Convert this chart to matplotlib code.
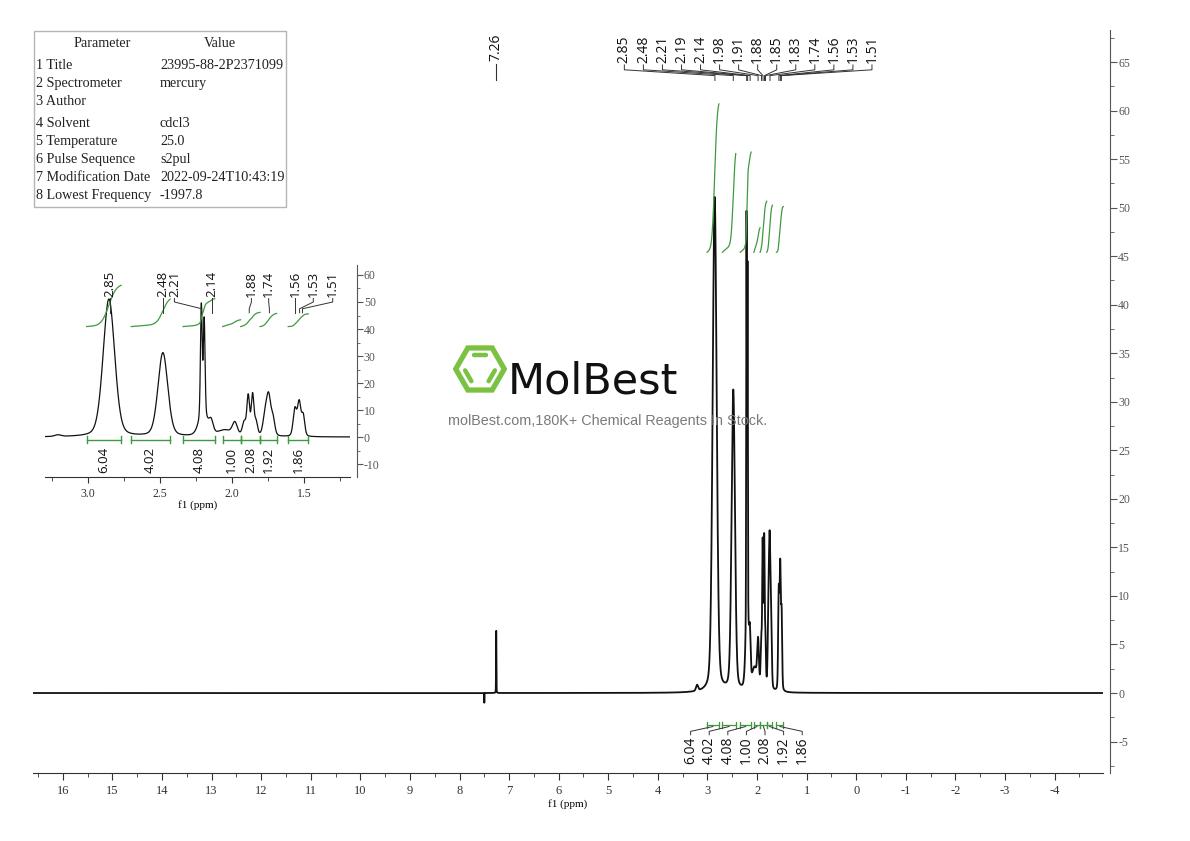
import numpy as np
import matplotlib
matplotlib.use('Agg')
import matplotlib.pyplot as plt
from matplotlib.patches import Rectangle, RegularPolygon
from matplotlib.ticker import MultipleLocator, FormatStrFormatter

plt.rcParams['font.family'] = ['Liberation Serif', 'DejaVu Serif']
plt.rcParams['axes.unicode_minus'] = False

# ---------------- data ----------------
peak_ppm = [7.26, 7.50, 3.21, 2.855, 2.48, 2.213, 2.193, 2.20, 2.145, 2.05, 1.98,
            1.915, 1.887, 1.857, 1.833, 1.77, 1.745, 1.715, 1.563, 1.533, 1.505]
peak_height = [6.4, -1.0, 0.6, 51, 31, 41, 35, 8, 4.5, 2.3, 4.5,
               5, 14.5, 15, 5, 7, 14, 6, 10, 12.5, 7.5]
peak_fwhm = [0.008, 0.004, 0.05, 0.095, 0.08, 0.014, 0.014, 0.07, 0.035, 0.12, 0.04,
             0.03, 0.022, 0.022, 0.025, 0.035, 0.035, 0.03, 0.028, 0.028, 0.025]
ppm_high, ppm_low = 16.65, -4.97

solvent_label = 7.26
main_labels = [2.85, 2.48, 2.21, 2.19, 2.14, 1.98, 1.91, 1.88, 1.85, 1.83, 1.74, 1.56, 1.53, 1.51]
inset_labels = [2.85, 2.48, 2.21, 2.14, 1.88, 1.74, 1.56, 1.53, 1.51]

int_start = [3.01, 2.70, 2.34, 2.065, 1.94, 1.805, 1.61]
int_end = [2.77, 2.43, 2.12, 1.94, 1.805, 1.69, 1.47]
int_values = [6.04, 4.02, 4.08, 1.00, 2.08, 1.92, 1.86]

param_names = ['1 Title', '2 Spectrometer', '3 Author', '4 Solvent', '5 Temperature',
               '6 Pulse Sequence', '7 Modification Date', '8 Lowest Frequency']
param_values = ['23995-88-2P2371099', 'mercury', '', 'cdcl3', '25.0', 's2pul',
                '2022-09-24T10:43:19', '-1997.8']

# ---------------- styles / layout ----------------
W, H = 1190, 841
GREEN = '#3f9a3f'
LOGO_GREEN = '#7cc242'
SANS = ['Open Sans', 'DejaVu Sans']


def fx(px):
    return px / W


def fy(py):
    return 1 - py / H


# spectrum
x = np.arange(ppm_high, ppm_low, -0.0005)
y = np.zeros_like(x)
for p, h, w in zip(peak_ppm, peak_height, peak_fwhm):
    d = (x - p) / w
    y += h * (0.75 * np.exp(-4 * np.log(2) * d ** 2) + 0.25 / (1 + 4 * d ** 2))


def integral_curve(a, b, val, base, k=2.53):
    m = (x <= a) & (x >= b)
    c = np.cumsum(np.clip(y[m], 0, None))
    c = c / c[-1]
    return x[m], base + c * val * k


fig = plt.figure(figsize=(W / 100, H / 100), dpi=100)

# ---------------- main axes ----------------
ax = fig.add_axes([fx(33), fy(773), fx(1103 - 33), (773 - 30) / H])
ax.plot(x, y, color='#111111', lw=1.3, zorder=3)
ax.set_xlim(16.6, -4.975)
ax.set_ylim(-8.24, 68.3)
for s in ['top', 'left']:
    ax.spines[s].set_visible(False)
ax.spines['bottom'].set_color('#333333')
ax.spines['right'].set_color('#555555')
ax.spines['right'].set_position(('outward', 5))
ax.yaxis.tick_right()
ax.xaxis.set_major_locator(MultipleLocator(1))
ax.xaxis.set_minor_locator(MultipleLocator(0.5))
ax.xaxis.set_major_formatter(FormatStrFormatter('%d'))
ax.yaxis.set_major_locator(MultipleLocator(5))
ax.yaxis.set_minor_locator(MultipleLocator(2.5))
ax.yaxis.set_major_formatter(FormatStrFormatter('%d'))
ax.tick_params(axis='x', which='major', length=5, labelsize=9, pad=4, colors='#333333')
ax.tick_params(axis='x', which='minor', length=3, colors='#333333')
ax.tick_params(axis='y', which='major', length=5, labelsize=8.5, pad=1, colors='#555555')
ax.tick_params(axis='y', which='minor', length=3, colors='#555555')
ax.set_xlabel('f1 (ppm)', fontsize=8, labelpad=1)

# integral curves (main)
for a, b, v in zip(int_start, int_end, int_values):
    xs, cs = integral_curve(a, b, v, 45.4)
    ax.plot(xs, cs, color=GREEN, lw=0.9, zorder=4)

# integral bars (main)
bar_y = -3.3
for a, b in zip(int_start, int_end):
    ax.plot([a, b], [bar_y, bar_y], color=GREEN, lw=0.9)
    ax.plot([a, a], [bar_y - 0.3, bar_y + 0.3], color=GREEN, lw=0.9)
    ax.plot([b, b], [bar_y - 0.3, bar_y + 0.3], color=GREEN, lw=0.9)
centers = [(a + b) / 2 for a, b in zip(int_start, int_end)]
sp = 18.6 / 49.6
cmid = (centers[0] + centers[-1]) / 2
n = len(int_values)
for i, (c, v) in enumerate(zip(centers, int_values)):
    lx = cmid + sp * (n - 1) / 2 - sp * i
    ax.plot([c, lx, lx], [bar_y - 0.15, -3.95, -4.3], color='#333333', lw=0.7)
    ax.text(lx, -4.5, f'{v:.2f}', rotation=90, ha='center', va='top',
            fontsize=10, family=SANS, color='#111111')

# peak labels (main)
sp = 19.05 / 49.6
cmid = (main_labels[0] + main_labels[-1]) / 2
n = len(main_labels)
for i, p in enumerate(main_labels):
    lx = cmid + sp * (n - 1) / 2 - sp * i
    ax.plot([lx, lx, p, p], [64.7, 64.2, 63.6, 63.1], color='#333333', lw=0.7)
    ax.text(lx, 64.9, f'{p:.2f}', rotation=90, ha='center', va='bottom',
            fontsize=10, family=SANS, color='#111111')
ax.plot([solvent_label, solvent_label], [64.8, 63.1], color='#333333', lw=0.8)
ax.text(solvent_label, 65.1, f'{solvent_label:.2f}', rotation=90, ha='center',
        va='bottom', fontsize=10, family=SANS, color='#111111')

# ---------------- inset ----------------
ins = fig.add_axes([fx(45), fy(477), fx(305), 212 / H])
ins.set_facecolor('none')
m = (x <= 3.30) & (x >= 1.18)
ins.plot(x[m], y[m], color='#111111', lw=0.9)
ins.set_xlim(3.299, 1.18)
ins.set_ylim(-14.8, 63.7)
for s in ['top', 'left']:
    ins.spines[s].set_visible(False)
ins.spines['bottom'].set_color('#333333')
ins.spines['right'].set_color('#555555')
ins.spines['right'].set_position(('outward', 5))
ins.yaxis.tick_right()
ins.xaxis.set_major_locator(MultipleLocator(0.5))
ins.xaxis.set_minor_locator(MultipleLocator(0.25))
ins.xaxis.set_major_formatter(FormatStrFormatter('%.1f'))
ins.yaxis.set_major_locator(MultipleLocator(10))
ins.yaxis.set_minor_locator(MultipleLocator(5))
ins.yaxis.set_major_formatter(FormatStrFormatter('%d'))
ins.tick_params(axis='x', which='major', length=4, labelsize=8.5, pad=4, colors='#333333')
ins.tick_params(axis='x', which='minor', length=3, colors='#333333')
ins.tick_params(axis='y', which='major', length=4, labelsize=8.5, pad=1, colors='#555555')
ins.tick_params(axis='y', which='minor', length=2.5, colors='#555555')
ins.set_xlabel('f1 (ppm)', fontsize=8, labelpad=0)

for a, b, v in zip(int_start, int_end, int_values):
    xs, cs = integral_curve(a, b, v, 40.9)
    ins.plot(xs, cs, color=GREEN, lw=0.9)
ibar = -1.0
for a, b, v in zip(int_start, int_end, int_values):
    ins.plot([a, b], [ibar, ibar], color=GREEN, lw=1.0)
    ins.plot([a, a], [ibar - 1.2, ibar + 1.2], color=GREEN, lw=1.0)
    ins.plot([b, b], [ibar - 1.2, ibar + 1.2], color=GREEN, lw=1.0)
    ins.text((a + b) / 2, -3.7, f'{v:.2f}', rotation=90, ha='center', va='top',
             fontsize=9.5, family=SANS, color='#111111')

inset_label_x = [2.85, 2.48, 2.40, 2.14, 1.865, 1.745, 1.56, 1.435, 1.30]
for p, lx in zip(inset_labels, inset_label_x):
    ins.plot([lx, lx, p, p], [51.3, 50.0, 47.5, 46.0], color='#333333', lw=0.7)
    ins.text(lx, 51.8, f'{p:.2f}', rotation=90, ha='center', va='bottom',
             fontsize=9.5, family=SANS, color='#111111')

# ---------------- parameter table ----------------
fig.add_artist(Rectangle((fx(34), fy(207)), fx(252), 176 / H, transform=fig.transFigure,
                         fill=False, ec='#b5b5b5', lw=1))
fig.text(fx(102), fy(47), 'Parameter', ha='center', va='baseline', fontsize=10.2, color='#222222')
fig.text(fx(220), fy(47), 'Value', ha='center', va='baseline', fontsize=10.2, color='#222222')
row_y = [65, 83, 101, 123, 141, 159, 177, 195]
for ry, nm, vl in zip(row_y, param_names, param_values):
    fig.text(fx(36), fy(ry + 4), nm, ha='left', va='baseline', fontsize=10.2, color='#222222')
    fig.text(fx(160), fy(ry + 4), vl, ha='left', va='baseline', fontsize=10.2, color='#222222')

# ---------------- watermark ----------------
lax = fig.add_axes([fx(453), fy(396), fx(54), 54 / H])
lax.set_xlim(-1, 1)
lax.set_ylim(-1, 1)
lax.set_aspect('equal')
lax.axis('off')
lax.add_patch(RegularPolygon((0, 0), 6, radius=0.9, orientation=np.pi / 6, fill=False,
                             ec=LOGO_GREEN, lw=3.8))
for k in (1, 3, 5):
    a1, a2 = np.deg2rad(60 * k), np.deg2rad(60 * (k + 1))
    r = 0.58
    p1 = np.array([r * np.cos(a1), r * np.sin(a1)])
    p2 = np.array([r * np.cos(a2), r * np.sin(a2)])
    mid = (p1 + p2) / 2
    p1 = mid + (p1 - mid) * 0.8
    p2 = mid + (p2 - mid) * 0.8
    lax.plot([p1[0], p2[0]], [p1[1], p2[1]], color=LOGO_GREEN, lw=3.2, solid_capstyle='round')

fig.text(fx(508), fy(394), 'MolBest', ha='left', va='baseline', fontsize=31,
         family='DejaVu Sans', color='#111111')
fig.text(fx(448), fy(421), 'molBest.com,180K+ Chemical Reagents In Stock.', ha='left',
         va='center', fontsize=10.4, family=['Liberation Sans', 'DejaVu Sans'], color='#7a7a7a')

fig.savefig('out.png', dpi=100)
